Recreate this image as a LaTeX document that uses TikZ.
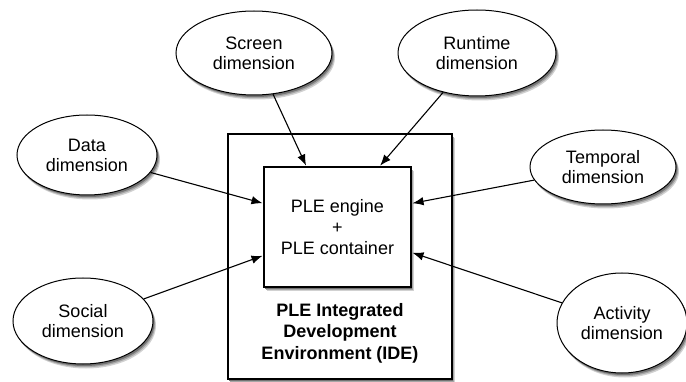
\documentclass[tikz,border=0pt]{standalone}
\usepackage{fontspec}
\setmainfont{Liberation Sans}
\usetikzlibrary{shapes.geometric,shadows,arrows.meta}
\begin{document}
\begin{tikzpicture}[x=1pt,y=-1pt,
  softshadow/.style={
    drop shadow={shadow xshift=3pt,shadow yshift=-4.5pt,fill=black!18,opacity=1},
    drop shadow={shadow xshift=2.2pt,shadow yshift=-3.2pt,fill=black!35,opacity=1},
    drop shadow={shadow xshift=1.4pt,shadow yshift=-2pt,fill=black!55,opacity=1}},
  dim/.style={ellipse,draw=black,line width=1pt,fill=white,softshadow,inner sep=0pt,
    align=center,font=\fontsize{18}{20}\selectfont},
  boxed/.style={rectangle,draw=black,line width=1.1pt,fill=white,softshadow,inner sep=0pt},
  arr/.style={line width=1.1pt,-{Latex[length=11pt,width=8.5pt]},shorten >=1pt}]
\useasboundingbox (0,0) rectangle (686,382);
% boxes
\node[boxed,minimum width=224pt,minimum height=245pt] (ide) at (340,256.5) {};
\node[boxed,minimum width=147pt,minimum height=120pt,align=center,
  font=\fontsize{18}{21}\selectfont] (inner) at (337.5,227) {PLE engine\\+\\PLE container};
\node[align=center,font=\fontsize{18}{21.5}\selectfont\bfseries] (idelabel) at (340,333)
  {PLE Integrated\\Development\\Environment (IDE)};
% ellipses
\node[dim,minimum width=156pt,minimum height=84pt] (screen) at (254,53) {Screen\\dimension};
\node[dim,minimum width=158pt,minimum height=86pt] (runtime) at (477,53) {Runtime\\dimension};
\node[dim,minimum width=140pt,minimum height=80pt] (data) at (87,155) {Data\\dimension};
\node[dim,minimum width=146pt,minimum height=74pt] (temporal) at (603,167) {Temporal\\dimension};
\node[dim,minimum width=140pt,minimum height=86pt] (social) at (83,321) {Social\\dimension};
\node[dim,minimum width=130pt,minimum height=100pt] (activity) at (622,323) {Activity\\dimension};
% targets on inner box
\coordinate (tScreen) at ([xshift=43pt]inner.north west);
\coordinate (tRuntime) at ([xshift=116pt]inner.north west);
\coordinate (tData) at ([yshift=-37pt]inner.north west);
\coordinate (tSocial) at ([yshift=-89pt]inner.north west);
\coordinate (tTemporal) at ([yshift=-37pt]inner.north east);
\coordinate (tActivity) at ([yshift=-86pt]inner.north east);
\draw[arr] (screen) -- (tScreen);
\draw[arr] (runtime) -- (tRuntime);
\draw[arr] (data) -- (tData);
\draw[arr] (social) -- (tSocial);
\draw[arr] (temporal) -- (tTemporal);
\draw[arr] (activity) -- (tActivity);
\end{tikzpicture}
\end{document}
